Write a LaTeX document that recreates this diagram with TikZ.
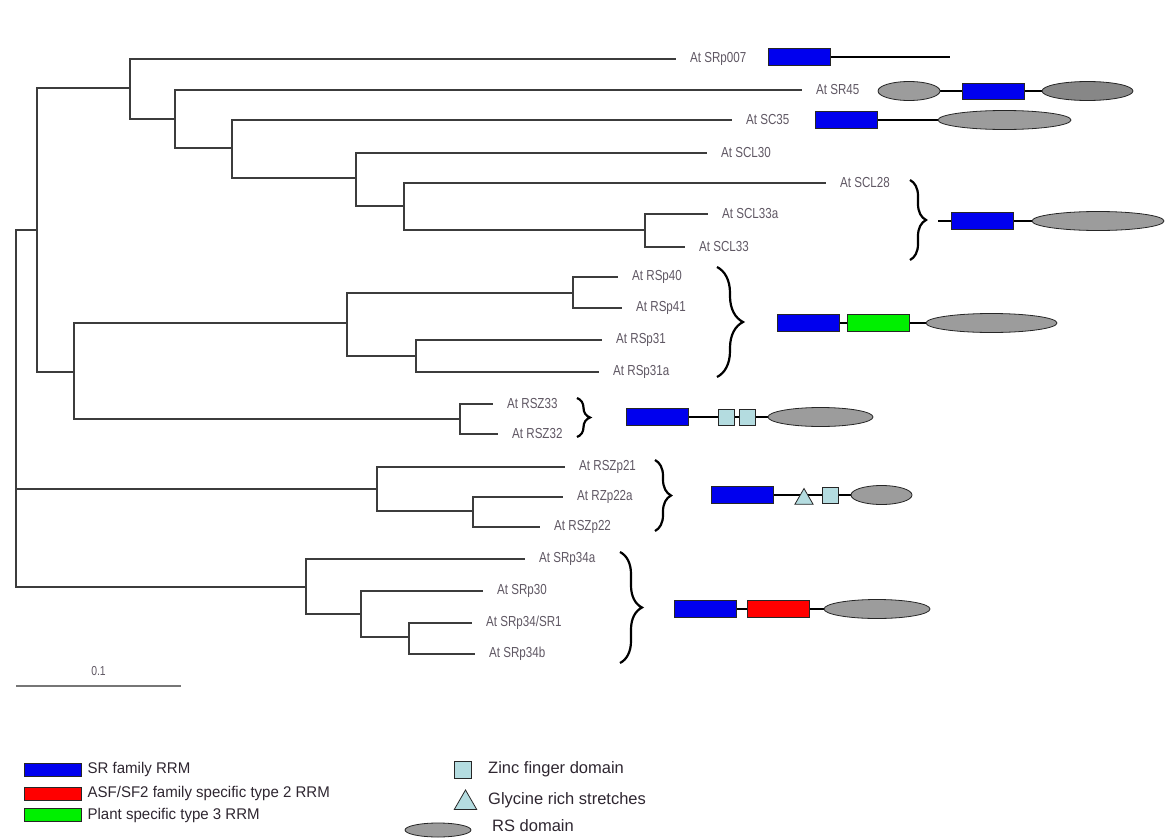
\documentclass[tikz,border=0pt]{standalone}
\usepackage{fontspec}
\setmainfont{Liberation Sans}
\newfontfamily\leaffont[FakeStretch=0.8]{Liberation Sans}
\newfontfamily\keyfont[FakeStretch=0.97]{Liberation Sans}
\usetikzlibrary{shapes.geometric,positioning,decorations.pathreplacing,backgrounds}
\definecolor{rrmblue}{HTML}{0000EE}
\definecolor{rrmred}{HTML}{FF0000}
\definecolor{rrmgreen}{HTML}{00F000}
\definecolor{zinccol}{HTML}{B4DCE0}
\definecolor{rsgrey}{HTML}{9C9C9C}
\definecolor{rsdark}{HTML}{878787}
\definecolor{treecol}{HTML}{3C3C3C}
\definecolor{leafcol}{HTML}{5F5763}
\definecolor{keycol}{HTML}{2E2630}

\begin{document}
\begin{tikzpicture}[x=1pt,y=-1pt,
  branch/.style={draw=treecol,line width=1.8pt},
  leaf/.style={anchor=west,inner sep=0pt,text=leafcol,font=\leaffont\fontsize{14.5}{14.5}\selectfont},
  rrm/.style={draw=black!85,line width=0.8pt,fill=#1,minimum width=62pt,minimum height=17pt,inner sep=0pt},
  zinc/.style={draw=black!85,line width=0.8pt,fill=zinccol,minimum width=16pt,minimum height=16pt,inner sep=0pt},
  glyc/.style={regular polygon,regular polygon sides=3,draw=black!85,line width=0.8pt,fill=zinccol,minimum size=#1,inner sep=0pt},
  rsdom/.style={ellipse,draw=black!85,line width=0.8pt,fill=rsgrey,minimum width=#1,minimum height=19pt,inner sep=0pt},
  link/.style={draw=black,line width=1.8pt},
  brace/.style={decorate,decoration={brace,amplitude=#1},line width=2.2pt},
  key/.style={anchor=west,inner sep=0pt,text=keycol,font=\keyfont\fontsize{15.5}{15.5}\selectfont},
  keyr/.style={key,font=\fontsize{16.5}{16.5}\selectfont}]
  \useasboundingbox (0,0) rectangle (1168,838);

  \foreach \n/\x/\y in {root/16/489, n1/37/230, n2/130/88, n3/175/119, n4/232/148,
    n5/356/178, n6/404/206, n7/645/230, n9/74/372, n10/347/323, n11/573/293,
    n12/416/356, n13/460/419, n14/377/489, n15/473/511, n16/306/587,
    n17/361/614, n18/409/637}
    \coordinate (\n) at (\x,\y);

  \def\leaves{%
    srp007/676/59/{At SRp007},%
    sr45/802/90/{At SR45},%
    sc35/732/120/{At SC35},%
    scl30/707/153/{At SCL30},%
    scl28/826/183/{At SCL28},%
    scl33a/708/214/{At SCL33a},%
    scl33/685/247/{At SCL33},%
    rsp40/618/277/{At RSp40},%
    rsp41/622/308/{At RSp41},%
    rsp31/602/340/{At RSp31},%
    rsp31a/599/372/{At RSp31a},%
    rsz33/493/404/{At RSZ33},%
    rsz32/498/434/{At RSZ32},%
    rszp21/565/467/{At RSZp21},%
    rzp22a/563/497/{At RZp22a},%
    rszp22/540/527/{At RSZp22},%
    srp34a/525/559/{At SRp34a},%
    srp30/483/591/{At SRp30},%
    srp34sr1/472/623/{At SRp34/SR1},%
    srp34b/475/654/{At SRp34b}%
  }
  \foreach \n/\x/\y/\t in \leaves {
    \coordinate (\n) at (\x,\y);
    \node[leaf] (\n-l) at ([xshift=14pt]\n) {\t};
  }

  \foreach \p/\c in {root/n1, root/n14, root/n16, n1/n2, n1/n9, n2/srp007, n2/n3,
    n3/sr45, n3/n4, n4/sc35, n4/n5, n5/scl30, n5/n6, n6/scl28, n6/n7,
    n7/scl33a, n7/scl33, n9/n10, n9/n13, n10/n11, n10/n12, n11/rsp40, n11/rsp41,
    n12/rsp31, n12/rsp31a, n13/rsz33, n13/rsz32, n14/rszp21, n14/n15,
    n15/rzp22a, n15/rszp22, n16/srp34a, n16/n17, n17/srp30, n17/n18,
    n18/srp34sr1, n18/srp34b}
    \draw[branch] (\p) |- (\c);

  \coordinate (sb0) at (16,686);
  \coordinate (sb1) at (181,686);
  \draw[draw=treecol!70,line width=1.2pt] (sb0) -- node[above=6pt,text=leafcol,font=\leaffont\fontsize{13}{13}\selectfont] (sbl) {0.1} (sb1);

  \foreach \nm/\x/\t/\b/\amp in {bscl/910/180/260/16, brsp/717/267/377/26,
    brsz/577/398/437/13, brszp/655/460/531/16, bsrp/620/552/663/22} {
    \coordinate (\nm T) at (\x,\t);
    \coordinate (\nm B) at (\x,\b);
    \draw[brace=\amp pt] (\nm T) -- (\nm B);
  }

  \node[rrm=rrmblue] (d1a) at (799.5,57) {};
  \coordinate (d1z) at (950,57);
  \node[rsdom=62pt] (d2a) at (909,91) {};
  \node[rrm=rrmblue,minimum height=16pt] (d2b) at (993,91) {};
  \node[rsdom=91pt,fill=rsdark] (d2c) at (1087.5,91) {};
  \node[rrm=rrmblue] (d3a) at (846,120) {};
  \node[rsdom=133pt] (d3b) at (1004.5,120) {};
  \coordinate (d4s) at (938,221);
  \node[rrm=rrmblue] (d4a) at (982,221) {};
  \node[rsdom=132pt] (d4b) at (1098,221) {};
  \node[rrm=rrmblue] (d5a) at (808,323) {};
  \node[rrm=rrmgreen] (d5b) at (878,323) {};
  \node[rsdom=131pt] (d5c) at (991.5,323) {};
  \node[rrm=rrmblue] (d6a) at (657,417) {};
  \node[zinc] (d6b) at (726,417) {};
  \node[zinc] (d6c) at (747,417) {};
  \node[rsdom=105pt] (d6d) at (820.5,417) {};
  \node[rrm=rrmblue] (d7a) at (742.5,495) {};
  \node[glyc=21pt] (d7b) at (804,499) {};
  \node[zinc] (d7c) at (830,495) {};
  \node[rsdom=61pt] (d7d) at (881.5,495) {};
  \node[rrm=rrmblue] (d8a) at (705,609) {};
  \node[rrm=rrmred] (d8b) at (778.5,609) {};
  \node[rsdom=106pt] (d8c) at (877,609) {};
  \begin{scope}[on background layer]
    \foreach \a/\b in {d1a.east/d1z, d2a.east/d2c.west, d3a.east/d3b.west,
      d4s/d4b.west, d5a.east/d5c.west, d6a.east/d6d.west, d7a.east/d7d.west,
      d8a.east/d8c.west}
      \draw[link] (\a) -- (\b);
  \end{scope}

  \node[rrm=rrmblue,minimum width=57pt,minimum height=13pt] (k1) at (52.5,769.5) {};
  \node[rrm=rrmred,minimum width=57pt,minimum height=13pt] (k2) at (52.5,793.5) {};
  \node[rrm=rrmgreen,minimum width=57pt,minimum height=13pt] (k3) at (52.5,815) {};
  \node[key,right=6pt of k1] (k1t) {SR family RRM};
  \node[key,right=6pt of k2] (k2t) {ASF/SF2 family specific type 2 RRM};
  \node[key,right=6pt of k3] (k3t) {Plant specific type 3 RRM};
  \node[zinc,minimum width=17pt,minimum height=17pt] (k4) at (462.5,769.5) {};
  \node[glyc=26pt] (k5) at (465.5,803) {};
  \node[rsdom=66pt,minimum height=14pt] (k6) at (438,830) {};
  \node[keyr] (k4t) at (488,769) {Zinc finger domain};
  \node[keyr] (k5t) at (488,800) {Glycine rich stretches};
  \node[keyr] (k6t) at (492,826) {RS domain};
\end{tikzpicture}
\end{document}
